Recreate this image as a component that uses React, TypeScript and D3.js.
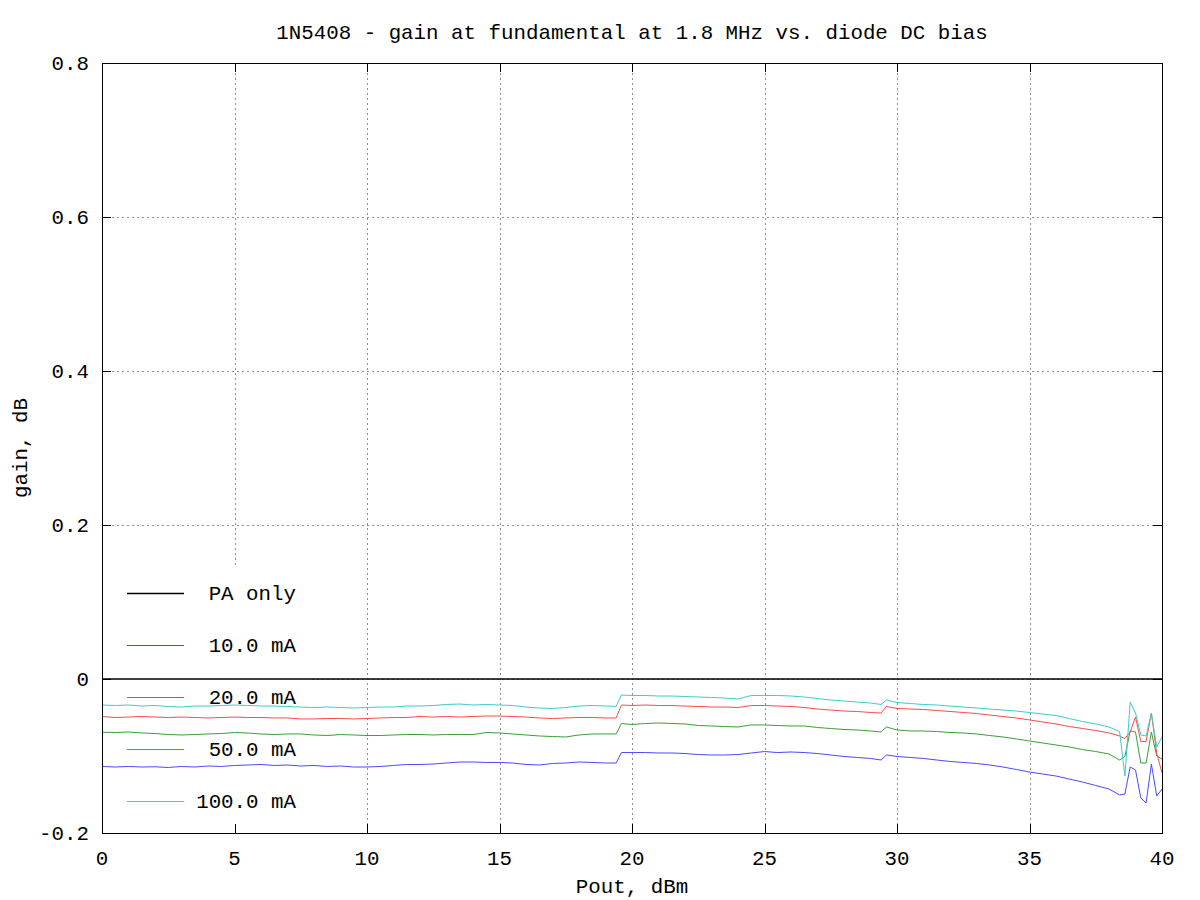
import React from "react";
import * as d3 from "d3";

const TITLE = "1N5408 - gain at fundamental at 1.8 MHz vs. diode DC bias";
const X_LABEL = "Pout, dBm";
const Y_LABEL = "gain, dB";
const X_TICKS = [0, 5, 10, 15, 20, 25, 30, 35, 40];
const Y_TICKS = [-0.2, 0, 0.2, 0.4, 0.6, 0.8];

const POUT = [
  0, 0.5, 1, 1.5, 2, 2.5, 3, 3.5, 4, 4.5, 5, 5.5, 6, 6.5, 7, 7.5, 8, 8.5, 9, 9.5,
  10, 10.5, 11, 11.5, 12, 12.5, 13, 13.5, 14, 14.5, 15, 15.5, 16, 16.5, 17, 17.5, 18, 18.5, 19,
  19.4, 19.6,
  20, 20.5, 21, 21.5, 22, 22.5, 23, 23.5, 24, 24.5, 25, 25.5, 26, 26.5, 27, 27.5, 28, 28.5, 29,
  29.4, 29.6,
  30, 30.5, 31, 31.5, 32, 32.5, 33, 33.5, 34, 34.5, 35, 35.5, 36, 36.5, 37, 37.5, 38,
  38.4, 38.6, 38.8, 39.0, 39.2, 39.4, 39.6, 39.8, 40,
];

const PA_ONLY = [0, 0];
const PA_ONLY_X = [0, 40];

const MA10 = [
  -0.1136, -0.1143, -0.1136, -0.1143, -0.1140, -0.1149, -0.1136, -0.1143, -0.1130, -0.1136,
  -0.1123, -0.1117, -0.1110, -0.1123, -0.1117, -0.1130, -0.1123, -0.1136, -0.1130, -0.1143,
  -0.1143, -0.1136, -0.1123, -0.1110, -0.1110, -0.1104, -0.1091, -0.1078, -0.1078, -0.1084,
  -0.1084, -0.1091, -0.1110, -0.1117, -0.1097, -0.1091, -0.1078, -0.1084, -0.1091,
  -0.1091, -0.0955,
  -0.0955, -0.0955, -0.0961, -0.0961, -0.0968, -0.0981, -0.0987, -0.0987, -0.0981, -0.0961,
  -0.0942, -0.0955, -0.0948, -0.0955, -0.0968, -0.0987, -0.1006, -0.1019, -0.1032,
  -0.1052, -0.0987,
  -0.1006, -0.1019, -0.1032, -0.1052, -0.1071, -0.1084, -0.1097, -0.1117, -0.1143, -0.1175,
  -0.1208, -0.1234, -0.1260, -0.1299, -0.1338, -0.1383, -0.1429,
  -0.1506, -0.1494, -0.1143, -0.1182, -0.1545, -0.1610, -0.1104, -0.1519, -0.1429,
];

const MA20 = [
  -0.0692, -0.0695, -0.0688, -0.0701, -0.0708, -0.0721, -0.0727, -0.0721, -0.0714, -0.0708,
  -0.0695, -0.0701, -0.0714, -0.0721, -0.0714, -0.0714, -0.0727, -0.0734, -0.0721, -0.0727,
  -0.0734, -0.0734, -0.0727, -0.0721, -0.0721, -0.0727, -0.0721, -0.0721, -0.0721, -0.0695,
  -0.0701, -0.0714, -0.0727, -0.0740, -0.0747, -0.0753, -0.0727, -0.0714, -0.0714,
  -0.0714, -0.0578,
  -0.0591, -0.0578, -0.0571, -0.0578, -0.0584, -0.0604, -0.0610, -0.0617, -0.0623, -0.0597,
  -0.0597, -0.0604, -0.0610, -0.0610, -0.0630, -0.0643, -0.0656, -0.0662, -0.0675,
  -0.0688, -0.0623,
  -0.0662, -0.0675, -0.0675, -0.0682, -0.0695, -0.0701, -0.0714, -0.0734, -0.0753, -0.0779,
  -0.0805, -0.0831, -0.0857, -0.0883, -0.0916, -0.0942, -0.0974,
  -0.1052, -0.1006, -0.0675, -0.0688, -0.1091, -0.1091, -0.0688, -0.1000, -0.1039,
];

const MA50 = [
  -0.0487, -0.0500, -0.0494, -0.0487, -0.0494, -0.0500, -0.0494, -0.0500, -0.0506, -0.0500,
  -0.0494, -0.0500, -0.0500, -0.0506, -0.0506, -0.0519, -0.0519, -0.0513, -0.0513, -0.0519,
  -0.0513, -0.0506, -0.0500, -0.0500, -0.0487, -0.0494, -0.0487, -0.0494, -0.0487, -0.0481,
  -0.0481, -0.0487, -0.0494, -0.0506, -0.0513, -0.0506, -0.0500, -0.0500, -0.0506,
  -0.0506, -0.0338,
  -0.0344, -0.0338, -0.0344, -0.0344, -0.0351, -0.0357, -0.0364, -0.0364, -0.0370, -0.0344,
  -0.0344, -0.0351, -0.0357, -0.0370, -0.0390, -0.0403, -0.0416, -0.0422, -0.0435,
  -0.0442, -0.0357,
  -0.0383, -0.0390, -0.0396, -0.0409, -0.0422, -0.0435, -0.0448, -0.0468, -0.0487, -0.0506,
  -0.0532, -0.0558, -0.0584, -0.0617, -0.0643, -0.0669, -0.0701,
  -0.0740, -0.0773, -0.0688, -0.0494, -0.0812, -0.0812, -0.0442, -0.0961, -0.1221,
];

const MA100 = [
  -0.0338, -0.0344, -0.0338, -0.0351, -0.0344, -0.0357, -0.0364, -0.0351, -0.0351, -0.0344,
  -0.0338, -0.0344, -0.0351, -0.0351, -0.0357, -0.0364, -0.0370, -0.0364, -0.0370, -0.0377,
  -0.0370, -0.0364, -0.0364, -0.0351, -0.0351, -0.0344, -0.0331, -0.0325, -0.0338, -0.0331,
  -0.0338, -0.0344, -0.0364, -0.0377, -0.0383, -0.0370, -0.0351, -0.0344, -0.0351,
  -0.0355, -0.0208,
  -0.0214, -0.0214, -0.0221, -0.0221, -0.0227, -0.0234, -0.0240, -0.0247, -0.0260, -0.0214,
  -0.0214, -0.0214, -0.0221, -0.0234, -0.0253, -0.0273, -0.0286, -0.0299, -0.0312,
  -0.0331, -0.0273,
  -0.0305, -0.0318, -0.0331, -0.0338, -0.0351, -0.0364, -0.0377, -0.0390, -0.0403, -0.0416,
  -0.0435, -0.0455, -0.0474, -0.0513, -0.0552, -0.0584, -0.0623,
  -0.0682, -0.1260, -0.0299, -0.0442, -0.0727, -0.0740, -0.0442, -0.0883, -0.0753,
];

const SERIES_NAMES = ["PA only", "10.0 mA", "20.0 mA", "50.0 mA", "100.0 mA"];
const SERIES_COLORS = ["#000000", "#4a4aff", "#3a9e3a", "#ff4a4a", "#3ccccc"];

const W = 1200;
const H = 900;
const M = { left: 102, right: 1162, top: 63, bottom: 833 };
const FONT = "'Liberation Mono', 'DejaVu Sans Mono', monospace";
const FS = 20.8;

export default function App() {
  const x = d3.scaleLinear().domain([0, 40]).range([M.left, M.right]);
  const y = d3.scaleLinear().domain([-0.2, 0.8]).range([M.bottom, M.top]);

  const series = [
    { xs: PA_ONLY_X, ys: PA_ONLY },
    { xs: POUT, ys: MA10 },
    { xs: POUT, ys: MA20 },
    { xs: POUT, ys: MA50 },
    { xs: POUT, ys: MA100 },
  ];

  const line = d3
    .line<[number, number]>()
    .x((d) => x(d[0]))
    .y((d) => y(d[1]));

  const tickLen = 9;
  const legendY0 = 593;
  const legendStep = 52;

  return (
    <svg
      width={W}
      height={H}
      style={{ position: "absolute", left: 0, top: 0, display: "block", background: "#fff" }}
      fontFamily={FONT}
      fontSize={FS}
    >
      <rect x={0} y={0} width={W} height={H} fill="#fff" />

      {/* grid */}
      <g stroke="#909090" strokeWidth={1} strokeDasharray="2,3">
        {X_TICKS.slice(1, -1).map((t) => (
          <line key={"gx" + t} x1={Math.round(x(t)) + 0.5} x2={Math.round(x(t)) + 0.5} y1={M.top} y2={M.bottom} />
        ))}
        {Y_TICKS.slice(1, -1).map((t) => (
          <line key={"gy" + t} x1={M.left} x2={M.right} y1={Math.round(y(t)) + 0.5} y2={Math.round(y(t)) + 0.5} />
        ))}
      </g>

      {/* legend box (opaque, no border) */}
      <rect x={M.left + 1} y={566} width={208} height={M.bottom - 566} fill="#fff" />

      {/* ticks */}
      <g stroke="#000" strokeWidth={1}>
        {X_TICKS.map((t) => {
          const px = Math.round(x(t)) + 0.5;
          return (
            <g key={"tx" + t}>
              <line x1={px} x2={px} y1={M.bottom} y2={M.bottom - tickLen} />
              <line x1={px} x2={px} y1={M.top} y2={M.top + tickLen} />
            </g>
          );
        })}
        {Y_TICKS.map((t) => {
          const py = Math.round(y(t)) + 0.5;
          return (
            <g key={"ty" + t}>
              <line x1={M.left} x2={M.left + tickLen} y1={py} y2={py} />
              <line x1={M.right} x2={M.right - tickLen} y1={py} y2={py} />
            </g>
          );
        })}
      </g>

      {/* data */}
      <g fill="none" strokeWidth={1}>
        {series.map((s, i) => (
          <path
            key={"s" + i}
            d={line(s.xs.map((v, j) => [v, s.ys[j]] as [number, number])) || ""}
            stroke={SERIES_COLORS[i]}
            strokeWidth={i === 0 ? 1.5 : 1}
          />
        ))}
      </g>

      {/* border */}
      <rect
        x={M.left + 0.5}
        y={M.top + 0.5}
        width={M.right - M.left}
        height={M.bottom - M.top}
        fill="none"
        stroke="#000"
        strokeWidth={1}
      />

      {/* legend */}
      <g>
        {SERIES_NAMES.map((name, i) => {
          const ly = legendY0 + i * legendStep;
          return (
            <g key={"lg" + i}>
              <line x1={127} x2={184} y1={ly + 0.5} y2={ly + 0.5} stroke={SERIES_COLORS[i]} strokeWidth={i === 0 ? 1.5 : 1} />
              <text x={296} y={ly + 7} textAnchor="end" fill="#000">
                {name}
              </text>
            </g>
          );
        })}
      </g>

      {/* tick labels */}
      <g fill="#000">
        {X_TICKS.map((t) => (
          <text key={"lx" + t} x={x(t)} y={865} textAnchor="middle">
            {String(t)}
          </text>
        ))}
        {Y_TICKS.map((t) => (
          <text key={"ly" + t} x={89} y={y(t) + 7} textAnchor="end">
            {t === 0 ? "0" : d3.format(".1f")(t).replace("−", "-")}
          </text>
        ))}
      </g>

      {/* titles */}
      <text x={632} y={39} textAnchor="middle" fill="#000">
        {TITLE}
      </text>
      <text x={632} y={893} textAnchor="middle" fill="#000">
        {X_LABEL}
      </text>
      <text transform="translate(27,448) rotate(-90)" textAnchor="middle" fill="#000">
        {Y_LABEL}
      </text>
    </svg>
  );
}
